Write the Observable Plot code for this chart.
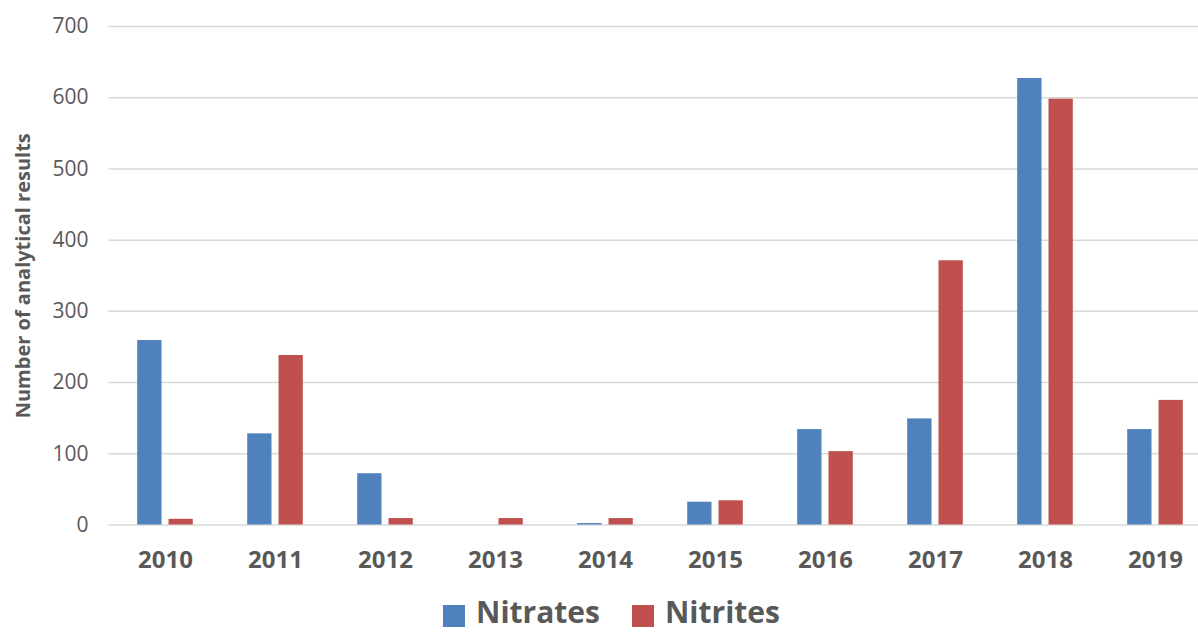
<!DOCTYPE html>
<html>
<head>
<meta charset="utf-8">
<script src="https://cdn.jsdelivr.net/npm/d3@7"></script>
<script src="https://cdn.jsdelivr.net/npm/@observablehq/plot@0.6"></script>
<style>
  html, body { margin: 0; padding: 0; background: #fff; }
  body { width: 1198px; height: 635px; overflow: hidden; font-family: "Open Sans", sans-serif; }
  #legend { display: flex; align-items: flex-start; margin-top: 22px; padding-left: 443px; }
  .item { display: flex; align-items: flex-start; margin-right: 32px; }
  .sw { width: 22px; height: 22px; margin-top: 8px; margin-right: 11px; }
  .lab { font-size: 30px; font-weight: bold; line-height: 1; color: #595959; }
</style>
</head>
<body>
<div id="chart"></div>
<div id="legend"></div>
<script>
const years = ["2010", "2011", "2012", "2013", "2014", "2015", "2016", "2017", "2018", "2019"];
const nitrates = [259, 128, 72, 0, 2, 32, 134, 149, 627, 134];
const nitrites = [8, 238, 9, 9, 9, 34, 103, 371, 598, 175];
const seriesNames = ["Nitrates", "Nitrites"];
const seriesColors = ["#4f81bd", "#c0504d"];
const yTicks = [0, 100, 200, 300, 400, 500, 600, 700];
const yLabel = "Number of analytical results";

const nitratesRows = years.map((year, i) => ({year, value: nitrates[i], series: seriesNames[0]}));
const nitritesRows = years.map((year, i) => ({year, value: nitrites[i], series: seriesNames[1]}));

const chart = Plot.plot({
  width: 1198,
  height: 575,
  marginLeft: 108.5,
  marginRight: 0,
  marginTop: 26,
  marginBottom: 50.5,
  style: {fontFamily: "Open Sans", color: "#595959", background: "white", overflow: "hidden"},
  x: {domain: years, range: [108.5, 1211.8], padding: 0, label: null},
  y: {domain: [0, 700], label: null},
  marks: [
    Plot.gridY(yTicks, {stroke: "#d9d9d9", strokeOpacity: 1, strokeWidth: 1.5}),
    Plot.barY(nitratesRows, {x: "year", y: "value", fill: seriesColors[0], insetLeft: 27.2, insetRight: 58.5}),
    Plot.barY(nitritesRows, {x: "year", y: "value", fill: seriesColors[1], insetLeft: 58.5, insetRight: 27.2}),
    Plot.axisY(yTicks, {tickSize: 0, tickPadding: 20.5, fontSize: 21, label: null, fill: "#595959"}),
    Plot.axisX({tickSize: 0, tickPadding: 25.5, fontSize: 24, fontWeight: "bold", label: null, fill: "#595959"}),
    Plot.text([yLabel], {frameAnchor: "left", textAnchor: "middle", rotate: -90, dx: -85.4, fontSize: 20, fontWeight: "bold", fill: "#595959"})
  ]
});
document.getElementById("chart").appendChild(chart);

const legend = document.getElementById("legend");
seriesNames.forEach((name, i) => {
  const item = document.createElement("div");
  item.className = "item";
  const sw = document.createElement("div");
  sw.className = "sw";
  sw.style.background = seriesColors[i];
  const lab = document.createElement("span");
  lab.className = "lab";
  lab.textContent = name;
  item.appendChild(sw);
  item.appendChild(lab);
  legend.appendChild(item);
});
</script>
</body>
</html>
